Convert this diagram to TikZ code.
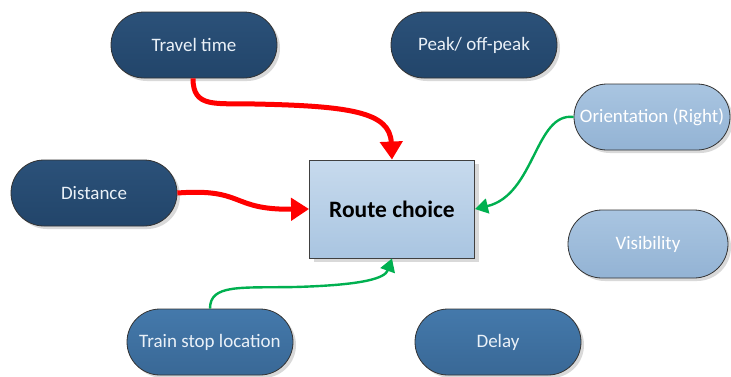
\documentclass[tikz,border=0pt]{standalone}
\usepackage{fontspec}
\setmainfont{Carlito}
\usetikzlibrary{arrows.meta,shadows}
\definecolor{darkA}{HTML}{2B5179}
\definecolor{darkB}{HTML}{22456A}
\definecolor{midA}{HTML}{4479AB}
\definecolor{midB}{HTML}{396896}
\definecolor{lightA}{HTML}{A9C5E1}
\definecolor{lightB}{HTML}{93B3D4}
\definecolor{boxA}{HTML}{C7DAED}
\definecolor{boxB}{HTML}{A9C5E1}
\definecolor{txtlight}{HTML}{EAF1F8}
\definecolor{redarrow}{HTML}{FF0000}
\definecolor{greenarrow}{HTML}{00B050}
\tikzset{
  pill/.style={draw=black!80, line width=0.8pt, minimum width=166pt, minimum height=66pt,
    rounded corners=33pt, text=txtlight, font=\fontsize{19}{22}\selectfont,
    drop shadow={shadow xshift=3pt, shadow yshift=-3pt, fill=black!15, opacity=1}},
  darkpill/.style={pill, top color=darkA, bottom color=darkB},
  midpill/.style={pill, top color=midA, bottom color=midB},
  lightpill/.style={pill, top color=lightA, bottom color=lightB, text=white},
  centerbox/.style={draw=black!75, line width=0.9pt, minimum width=165pt, minimum height=98pt,
    top color=boxA, bottom color=boxB, font=\fontsize{23.5}{27}\selectfont\bfseries,
    drop shadow={shadow xshift=4pt, shadow yshift=-4pt, fill=black!15, opacity=1}},
  redconn/.style={draw=redarrow, line width=5pt, -{Triangle[length=18pt,width=22pt]}},
  greenconn/.style={draw=greenarrow, line width=2.4pt, -{Triangle[length=13pt,width=15pt]}}
}
\begin{document}
\begin{tikzpicture}[x=1pt,y=-1pt]
\useasboundingbox (0,0) rectangle (731,376);
\node[darkpill] (tt) at (194,45) {Travel time};
\node[darkpill] (peak) at (474,45) {Peak/ off-peak};
\node[lightpill, minimum width=156pt] (orient) at (652,117) {Orientation (Right)};
\node[centerbox] (route) at (392,209) {Route choice};
\node[darkpill] (dist) at (94,193) {Distance};
\node[lightpill, minimum width=160pt, minimum height=68pt, rounded corners=34pt] (vis) at (648,244) {Visibility};
\node[midpill] (train) at (210,342) {Train stop location};
\node[midpill] (delay) at (498,342) {Delay};
\coordinate (ttout) at ([xshift=-1pt]tt.south);
\coordinate (mid1) at (255,104);
\coordinate (mid2) at (295,287);
\draw[redconn] (ttout) .. controls +(0,30) and (215,103) .. (mid1)
   .. controls (350,106) and (390,112) .. (route.north);
\draw[redconn] (dist.east) .. controls (245,188) and (230,210) .. (route.west);
\draw[greenconn] (orient.west) .. controls (535,112) and (535,195) .. (route.east);
\draw[greenconn] (train.north) .. controls (210,284) and (240,288) .. (mid2)
   .. controls (365,285) and (385,278) .. (route.south);
\end{tikzpicture}
\end{document}
